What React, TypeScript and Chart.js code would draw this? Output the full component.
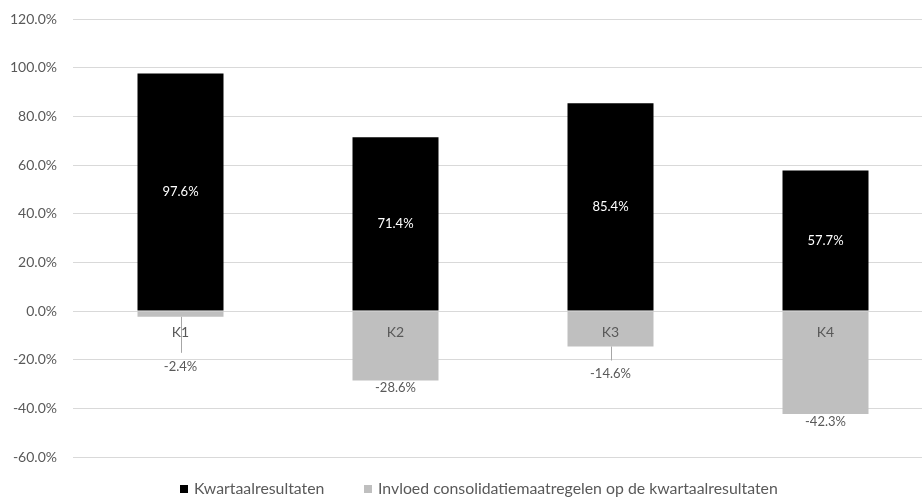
import React, { useEffect, useRef } from "react";
import { Chart, registerables } from "chart.js";

Chart.register(...registerables);

// Quarter labels and the two stacked series (percentages)
const categories = ["K1", "K2", "K3", "K4"];
const kwartaalresultaten = [97.6, 71.4, 85.4, 57.7];
const invloedConsolidatie = [-2.4, -28.6, -14.6, -42.3];
const seriesNames = [
  "Kwartaalresultaten",
  "Invloed consolidatiemaatregelen op de kwartaalresultaten",
];

const FONT = "Lato, 'Open Sans', sans-serif";
const TEXT = "#595959";
const BLACK_BAR = "#000000";
const GRAY_BAR = "#bfbfbf";

// Extra downward shift (px) for negative labels that would collide with the quarter label
const negLabelShift = [42, 0, 20, 0];

const fmt = (v: number) => v.toFixed(1) + "%";

// Value labels inside the positive bars and below the negative bars,
// plus the quarter names just under the zero line
const valueLabels = {
  id: "valueLabels",
  afterDatasetsDraw(chart: any) {
    const ctx = chart.ctx;
    const xs = chart.scales.x;
    const ys = chart.scales.y;
    ctx.save();
    ctx.textAlign = "center";

    // quarter names
    ctx.font = `14px ${FONT}`;
    ctx.fillStyle = TEXT;
    ctx.textBaseline = "middle";
    const zeroY = ys.getPixelForValue(0);
    categories.forEach((c, i) => {
      ctx.fillText(c, xs.getPixelForValue(i), zeroY + 21);
    });

    ctx.font = `13px ${FONT}`;
    const pos = chart.getDatasetMeta(0);
    pos.data.forEach((bar: any, i: number) => {
      const v = chart.data.datasets[0].data[i];
      ctx.fillStyle = "#ffffff";
      ctx.textBaseline = "middle";
      ctx.fillText(fmt(v), bar.x, (bar.y + bar.base) / 2);
    });

    const neg = chart.getDatasetMeta(1);
    neg.data.forEach((bar: any, i: number) => {
      const v = chart.data.datasets[1].data[i];
      const shift = negLabelShift[i] || 0;
      const top = bar.y + 1 + shift;
      if (shift > 0) {
        ctx.strokeStyle = "#a6a6a6";
        ctx.lineWidth = 1;
        ctx.beginPath();
        ctx.moveTo(Math.round(bar.x) + 0.5, bar.y);
        ctx.lineTo(Math.round(bar.x) + 0.5, top - 7);
        ctx.stroke();
      }
      ctx.fillStyle = TEXT;
      ctx.textBaseline = "top";
      ctx.fillText(fmt(v), bar.x, top);
    });
    ctx.restore();
  },
};

// Legend row under the plot; the long entry runs from 378px to 778px
const bottomLegend = {
  id: "bottomLegend",
  afterDraw(chart: any) {
    const ctx = chart.ctx;
    const colors = [BLACK_BAR, GRAY_BAR];
    const starts = [180, 364];
    const box = 8;
    const gap = 6;
    const y = 489;
    ctx.save();
    ctx.font = `14px ${FONT}`;
    const w = ctx.measureText(seriesNames[1]).width;
    const size = Math.max(12, Math.min(17, (14 * 400) / w));
    ctx.font = `${size.toFixed(2)}px ${FONT}`;
    seriesNames.forEach((name, i) => {
      const x = starts[i];
      ctx.fillStyle = colors[i];
      ctx.fillRect(x, y - box / 2, box, box);
      ctx.fillStyle = TEXT;
      ctx.textAlign = "left";
      ctx.textBaseline = "middle";
      ctx.fillText(name, x + box + gap, y);
    });
    ctx.restore();
  },
};

export default function App() {
  const canvasRef = useRef<HTMLCanvasElement | null>(null);

  useEffect(() => {
    const canvas = canvasRef.current;
    if (!canvas) return;
    const chart = new Chart(canvas, {
      type: "bar",
      data: {
        labels: categories,
        datasets: [
          {
            label: seriesNames[0],
            data: kwartaalresultaten,
            backgroundColor: BLACK_BAR,
            barPercentage: 1,
            categoryPercentage: 0.4,
          },
          {
            label: seriesNames[1],
            data: invloedConsolidatie,
            backgroundColor: GRAY_BAR,
            barPercentage: 1,
            categoryPercentage: 0.4,
          },
        ],
      },
      options: {
        animation: false,
        responsive: false,
        maintainAspectRatio: false,
        layout: { padding: { top: 19, right: 0, bottom: 46, left: 0 } },
        plugins: {
          legend: { display: false },
          tooltip: { enabled: false },
        },
        scales: {
          x: {
            stacked: true,
            display: false,
          },
          y: {
            stacked: true,
            min: -60,
            max: 120,
            afterFit: (s: any) => {
              s.width = 73;
              s.paddingTop = 0;
              s.paddingBottom = 0;
            },
            grid: { color: "#d9d9d9", drawTicks: false },
            border: { display: false },
            ticks: {
              stepSize: 20,
              padding: 16,
              color: TEXT,
              font: { family: FONT, size: 14 },
              callback: (v: any) => Number(v).toFixed(1) + "%",
            },
          },
        },
      },
      plugins: [valueLabels, bottomLegend],
    });
    return () => chart.destroy();
  }, []);

  return (
    <div
      style={{
        position: "absolute",
        left: 0,
        top: 0,
        width: 922,
        height: 503,
        overflow: "hidden",
        background: "#ffffff",
      }}
    >
      <canvas
        ref={canvasRef}
        width={933}
        height={503}
        style={{ display: "block", width: 933, height: 503 }}
      />
    </div>
  );
}
